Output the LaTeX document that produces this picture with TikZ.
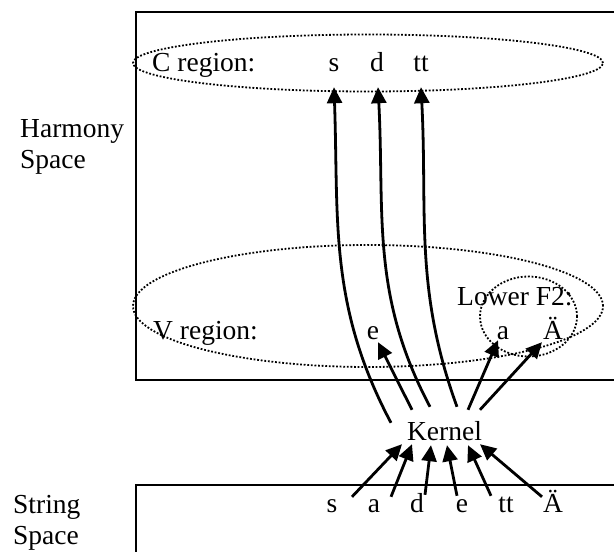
\documentclass[tikz,border=0pt]{standalone}
\usepackage{fontspec}
\setmainfont{Liberation Serif}
\usetikzlibrary{arrows.meta}

\begin{document}
\begin{tikzpicture}[
    x=1pt, y=1pt,
    lbl/.style={inner sep=0pt, font=\fontsize{27.5}{31}\selectfont},
    side/.style={lbl, align=left, anchor=base west},
    tok/.style={lbl, text height=16pt, text depth=0pt, anchor=base},
    frame/.style={line width=2.7pt},
    region/.style={line width=1.8pt, dash pattern=on 1.8pt off 1.8pt},
    arrow/.style={-{Triangle[length=16pt,width=15pt]}, line width=2.8pt}
]
\useasboundingbox (0,0) rectangle (614,552);

% spaces
\draw[frame] (136,172) rectangle (660,540);
\draw[frame] (136,67) rectangle (660,-40);
\node[side] (harm) at (20,383) {Harmony\\Space};
\node[side] (strg) at (13,7) {String\\Space};

% regions
\draw[region] (368,489) ellipse [x radius=235pt, y radius=28.5pt];
\draw[region] (368,246) ellipse [x radius=235pt, y radius=61pt];
\draw[region] (528.5,235.5) ellipse [x radius=48.5pt, y radius=40pt];

\node[lbl, anchor=base west] (creg) at (152,480) {C region:};
\node[tok] (cs) at (334,480) {s};
\node[tok] (cd) at (377,480) {d};
\node[tok] (ctt) at (421,480) {tt};

\node[lbl, anchor=base west] (vreg) at (153,212) {V region:};
\node[lbl, anchor=base west] (lowf) at (457,246) {Lower F2:};
\node[tok] (ve) at (373,212) {e};
\node[tok] (va) at (503,212) {a};
\node[tok] (vae) at (553,212) {Ä};

\node[lbl, anchor=base, text height=18pt, text depth=0pt] (kern) at (444.5,111) {Kernel};

\node[tok] (ss) at (332,39) {s};
\node[tok] (sa) at (374,39) {a};
\node[tok] (sd) at (417,39) {d};
\node[tok] (se) at (462,39) {e};
\node[tok] (stt) at (506,39) {tt};
\node[tok] (sae) at (553,39) {Ä};

% string -> kernel
\draw[arrow] ([xshift=20pt]ss.north) -- ([xshift=-42.5pt,yshift=-3pt]kern.south);
\draw[arrow] ([xshift=17pt]sa.north) -- ([xshift=-32.5pt,yshift=-3pt]kern.south);
\draw[arrow] ([xshift=8pt,yshift=2pt]sd.north) -- ([xshift=-13.5pt,yshift=-4pt]kern.south);
\draw[arrow] ([xshift=-5pt,yshift=1pt]se.north) -- ([xshift=2.5pt,yshift=-4pt]kern.south);
\draw[arrow] ([xshift=-15pt,yshift=1pt]stt.north) -- ([xshift=23.5pt,yshift=-4pt]kern.south);
\draw[arrow] ([xshift=-11pt]sae.north) -- ([xshift=35.5pt,yshift=-3pt]kern.south);

% kernel -> harmony space
\draw[arrow] ([xshift=-53.5pt]kern.north) to[out=118,in=-88] ([yshift=-15pt]cs.south);
\draw[arrow] ([xshift=-14.5pt,yshift=16pt]kern.north) to[out=118,in=-87] ([xshift=1pt,yshift=-15pt]cd.south);
\draw[arrow] ([xshift=12.5pt,yshift=16pt]kern.north) to[out=110,in=-87] ([yshift=-15pt]ctt.south);
\draw[arrow] ([xshift=-32.5pt,yshift=13pt]kern.north) -- ([xshift=5pt,yshift=-2pt]ve.south);
\draw[arrow] ([xshift=23.5pt,yshift=13pt]kern.north) -- ([xshift=-5pt]va.south);
\draw[arrow] ([xshift=35.5pt,yshift=13pt]kern.north) -- ([xshift=-11pt,yshift=-2pt]vae.south);

\end{tikzpicture}
\end{document}
